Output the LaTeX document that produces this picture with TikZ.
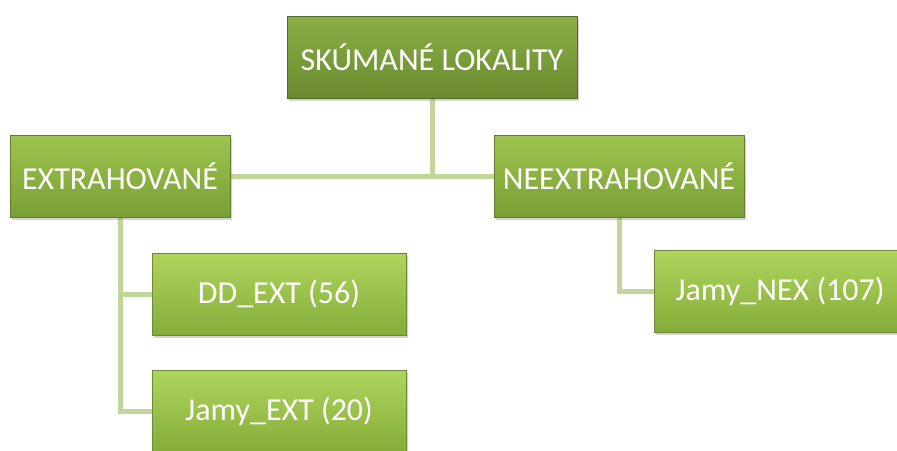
\documentclass[tikz,border=0pt]{standalone}
\usepackage{fontspec}
\setmainfont{Carlito}
\usetikzlibrary{shadows,backgrounds}
\definecolor{conn}{HTML}{C2D69A}
\tikzset{
  box/.style={rectangle, minimum height=82pt, inner sep=0pt, text=white,
    font=\fontsize{32}{38}\selectfont, draw=#1!70!black, line width=0.6pt,
    drop shadow={shadow xshift=2pt, shadow yshift=-3pt, opacity=0.35}},
  lvlA/.style={box=lvA, top color=lvAt, bottom color=lvAb},
  lvlB/.style={box=lvB, top color=lvBt, bottom color=lvBb},
  lvlC/.style={box=lvC, top color=lvCt, bottom color=lvCb},
  link/.style={draw=conn, line width=5pt}
}
\definecolor{lvA}{HTML}{77983A}
\definecolor{lvAt}{HTML}{8BAE48}
\definecolor{lvAb}{HTML}{6A8A2E}
\definecolor{lvB}{HTML}{8AB243}
\definecolor{lvBt}{HTML}{9EC44F}
\definecolor{lvBb}{HTML}{7A9F34}
\definecolor{lvC}{HTML}{9CC44E}
\definecolor{lvCt}{HTML}{AED55C}
\definecolor{lvCb}{HTML}{86AC3A}
\begin{document}
\begin{tikzpicture}[x=1pt,y=-1pt]
\useasboundingbox (0,0) rectangle (897,450);
\clip (0,0) rectangle (897,450);
\node[lvlA, minimum width=290pt] (top) at (432,57) {SKÚMANÉ LOKALITY};
\node[lvlB, minimum width=220pt] (ext) at (120,176) {EXTRAHOVANÉ};
\node[lvlB, minimum width=250pt] (nex) at (619,176) {NEEXTRAHOVANÉ};
\node[lvlC, minimum width=254pt] (dd) at (279,294) {DD\_EXT (56)};
\node[lvlC, minimum width=254pt] (je) at (279,411) {Jamy\_EXT (20)};
\node[lvlC, minimum width=252pt] (jn) at (780,291) {Jamy\_NEX (107)};
\begin{scope}[on background layer]
\draw[link] (ext.east) -- (nex.west);
\draw[link] (top.south) -- (top.south |- ext.east);
\draw[link] (ext.south) -- (ext.south |- je.west) -- (je.west);
\draw[link] (ext.south |- dd.west) -- (dd.west);
\draw[link] (nex.south) -- (nex.south |- jn.west) -- (jn.west);
\end{scope}
\end{tikzpicture}
\end{document}
